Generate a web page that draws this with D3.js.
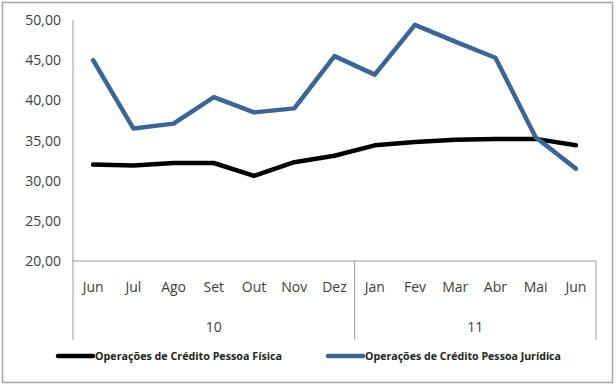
<!DOCTYPE html>
<html>
<head>
<meta charset="utf-8">
<script src="https://cdn.jsdelivr.net/npm/d3@7"></script>
<style>
  body { margin: 0; background: #fff; }
  text { font-family: "Open Sans", "Liberation Sans", sans-serif; }
</style>
</head>
<body>
<svg id="chart" width="616" height="386"></svg>
<script>
const months = ["Jun", "Jul", "Ago", "Set", "Out", "Nov", "Dez", "Jan", "Fev", "Mar", "Abr", "Mai", "Jun"];
const years = [{ label: "10", from: 0, to: 7 }, { label: "11", from: 7, to: 13 }];
const pessoaFisica = [32.0, 31.9, 32.2, 32.2, 30.6, 32.3, 33.1, 34.4, 34.8, 35.1, 35.2, 35.2, 34.4];
const pessoaJuridica = [45.0, 36.5, 37.1, 40.4, 38.5, 39.0, 45.5, 43.2, 49.4, 47.3, 45.3, 35.4, 31.5];
const yTicks = [20, 25, 30, 35, 40, 45, 50];
const seriesNames = ["Operações de Crédito Pessoa Física", "Operações de Crédito Pessoa Jurídica"];

const svg = d3.select("#chart");
const plotLeft = 73, plotRight = 596, plotTop = 20, base = 261, catBottom = 340;

// outer frame
svg.append("rect").attr("x", 2.5).attr("y", 2.5).attr("width", 610).attr("height", 380)
    .attr("fill", "#fff").attr("stroke", "#a6a6a6").attr("stroke-width", 1.5);

const x = d3.scaleBand().domain(d3.range(months.length)).range([plotLeft, plotRight]);
const y = d3.scaleLinear().domain([20, 50]).range([base, plotTop]);

// y axis labels
svg.selectAll(".ylab").data(yTicks).enter().append("text")
    .attr("class", "ylab")
    .attr("x", plotLeft - 12).attr("y", d => y(d) + 5)
    .attr("text-anchor", "end")
    .attr("font-size", 14).attr("fill", "#404040")
    .text(d => d3.format(".2f")(d).replace(".", ","));

const axisColor = "#999";
svg.append("line").attr("x1", plotLeft).attr("x2", plotLeft).attr("y1", plotTop).attr("y2", catBottom)
    .attr("stroke", axisColor);
svg.append("line").attr("x1", plotLeft).attr("x2", plotRight).attr("y1", base).attr("y2", base)
    .attr("stroke", axisColor);

// year dividers
years.forEach(g => {
    const xe = g.to < months.length ? x(g.to) : plotRight;
    svg.append("line").attr("x1", xe).attr("x2", xe).attr("y1", base).attr("y2", catBottom)
        .attr("stroke", axisColor);
    const xs = x(g.from);
    svg.append("text").attr("x", (xs + xe) / 2).attr("y", 332)
        .attr("text-anchor", "middle").attr("font-size", 14).attr("fill", "#404040")
        .text(g.label);
});

// month labels
svg.selectAll(".mlab").data(months).enter().append("text")
    .attr("class", "mlab")
    .attr("x", (d, i) => x(i) + x.bandwidth() / 2).attr("y", 292)
    .attr("text-anchor", "middle").attr("font-size", 14).attr("fill", "#404040")
    .text(d => d);

const line = d3.line().x((d, i) => x(i) + x.bandwidth() / 2).y(d => y(d));
const colors = ["#000000", "#3c6594"];

[pessoaFisica, pessoaJuridica].forEach((s, k) => {
    svg.append("path").datum(s)
        .attr("fill", "none").attr("stroke", colors[k]).attr("stroke-width", 4.5)
        .attr("stroke-linejoin", "round").attr("stroke-linecap", "round")
        .attr("d", line);
});

// legend
const legendX = [58, 328];
seriesNames.forEach((name, k) => {
    svg.append("line").attr("x1", legendX[k]).attr("x2", legendX[k] + 35)
        .attr("y1", 356).attr("y2", 356)
        .attr("stroke", colors[k]).attr("stroke-width", 4.5).attr("stroke-linecap", "round");
    svg.append("text").attr("x", legendX[k] + 37).attr("y", 360)
        .attr("font-size", 11).attr("font-weight", "bold").attr("fill", "#222")
        .attr("textLength", k === 0 ? 187 : 196).attr("lengthAdjust", "spacingAndGlyphs")
        .text(name);
});
</script>
</body>
</html>
